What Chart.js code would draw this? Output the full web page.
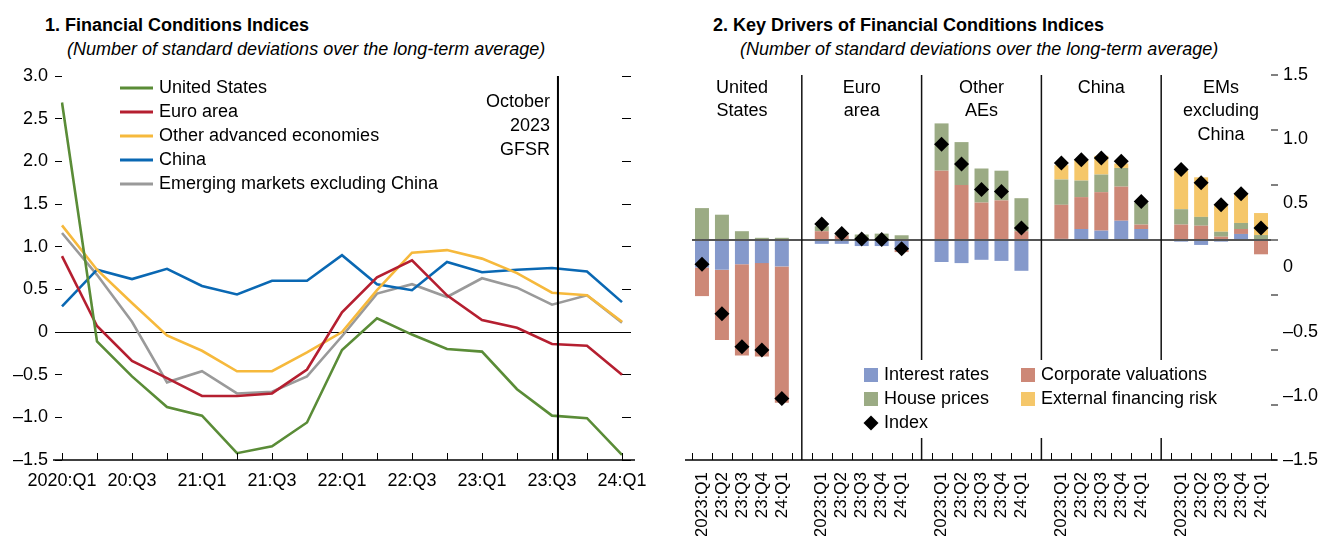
<!DOCTYPE html>
<html>
<head>
<meta charset="utf-8">
<script src="https://cdn.jsdelivr.net/npm/chart.js@4.4.1/dist/chart.umd.min.js"></script>
<style>
  body { margin: 0; background: #fff; width: 1320px; height: 536px; overflow: hidden; position: relative; }
  .title { position: absolute; font: bold 18px 'Liberation Sans', Arial, sans-serif; color: #000; white-space: nowrap; }
  .sub { position: absolute; font: italic 18px 'Liberation Sans', Arial, sans-serif; color: #000; white-space: nowrap; }
  .box { position: absolute; top: 0; width: 660px; height: 536px; }
</style>
</head>
<body>
<div class="title" style="left:45px; top:15px;">1. Financial Conditions Indices</div>
<div class="sub" style="left:67px; top:39px;">(Number of standard deviations over the long-term average)</div>
<div class="title" style="left:713px; top:15px;">2. Key Drivers of Financial Conditions Indices</div>
<div class="sub" style="left:740px; top:39px;">(Number of standard deviations over the long-term average)</div>
<div class="box" style="left:0"><canvas id="fci" width="660" height="536"></canvas></div>
<div class="box" style="left:660px"><canvas id="drivers" width="660" height="536"></canvas></div>
<script>
const FONT = "'Liberation Sans', Arial, sans-serif";
const DASH = '\u2013';

// PANEL 1 DATA
const quarters = ['2020:Q1','20:Q2','20:Q3','20:Q4','21:Q1','21:Q2','21:Q3','21:Q4',
  '22:Q1','22:Q2','22:Q3','22:Q4','23:Q1','23:Q2','23:Q3','23:Q4','24:Q1'];
const unitedStates = [2.69, -0.11, -0.52, -0.88, -0.98, -1.42, -1.34, -1.06, -0.21, 0.16, -0.03, -0.20, -0.23, -0.67, -0.98, -1.01, -1.44];
const euroArea = [0.89, 0.07, -0.34, -0.54, -0.75, -0.75, -0.72, -0.44, 0.23, 0.64, 0.84, 0.43, 0.14, 0.05, -0.14, -0.16, -0.50];
const otherAdvanced = [1.25, 0.73, 0.34, -0.04, -0.22, -0.46, -0.46, -0.24, 0.00, 0.49, 0.93, 0.96, 0.86, 0.69, 0.46, 0.43, 0.12];
const china = [0.30, 0.73, 0.62, 0.74, 0.54, 0.44, 0.60, 0.60, 0.90, 0.56, 0.49, 0.82, 0.70, 0.73, 0.75, 0.71, 0.35];
const emExChina = [1.16, 0.67, 0.12, -0.59, -0.46, -0.72, -0.70, -0.52, -0.05, 0.45, 0.56, 0.41, 0.63, 0.52, 0.32, 0.43, 0.11];
const gfsrMark = 14.17; // October 2023 GFSR, just after 23:Q3

// PANEL 2 DATA (5 groups x 5 quarters)
const groupNames = [['United', 'States'], ['Euro', 'area'], ['Other', 'AEs'], ['China'], ['EMs', 'excluding', 'China']];
const driverQuarters = ['2023:Q1', '23:Q2', '23:Q3', '23:Q4', '24:Q1'];
const interestRates = [
  -0.25, -0.27, -0.22, -0.21, -0.24,
  -0.035, -0.035, -0.055, -0.055, -0.09,
  -0.20, -0.21, -0.18, -0.19, -0.28,
  0.01, 0.10, 0.085, 0.175, 0.10,
  -0.015, -0.045, -0.015, 0.055, null];
const corporateValuations = [
  -0.26, -0.64, -0.83, -0.85, -1.24,
  0.08, 0.04, null, null, -0.02,
  0.63, 0.50, 0.34, 0.36, 0.08,
  0.31, 0.29, 0.35, 0.31, 0.04,
  0.14, 0.13, 0.03, 0.045, -0.13];
const housePrices = [
  0.29, 0.23, 0.08, 0.02, 0.02,
  0.045, 0.01, 0.05, 0.058, 0.043,
  0.43, 0.39, 0.31, 0.27, 0.30,
  0.23, 0.15, 0.16, 0.17, 0.20,
  0.14, 0.08, 0.045, 0.055, 0.045];
const externalFinancing = [
  null, null, null, null, null,
  null, null, null, null, null,
  null, null, null, null, null,
  0.13, 0.19, 0.17, 0.04, null,
  0.35, 0.36, 0.24, 0.27, 0.20];
const fciIndex = [
  -0.22, -0.67, -0.97, -1.00, -1.44,
  0.145, 0.06, 0.01, 0.005, -0.08,
  0.87, 0.69, 0.46, 0.44, 0.11,
  0.70, 0.73, 0.745, 0.715, 0.35,
  0.64, 0.52, 0.32, 0.42, 0.11];
const leftTicks = [3.0, 2.5, 2.0, 1.5, 1.0, 0.5, 0, -0.5, -1.0, -1.5];
const rightTicks = [1.5, 1.0, 0.5, 0, -0.5, -1.0, -1.5];

function fmt(v) {
  if (Math.abs(v) < 1e-9) return '0';
  return (v < 0 ? DASH : '') + Math.abs(v).toFixed(1);
}

// ---------- PANEL 1 ----------
const lineColors = {
  'United States': '#5a8c37',
  'Euro area': '#b51f30',
  'Other advanced economies': '#f6b93c',
  'China': '#0a68b3',
  'Emerging markets excluding China': '#9a9a9a'
};
const lineSeries = [
  ['United States', unitedStates],
  ['Euro area', euroArea],
  ['Other advanced economies', otherAdvanced],
  ['China', china],
  ['Emerging markets excluding China', emExChina]
];

const fciDecor = {
  id: 'fciDecor',
  afterDraw(chart) {
    const {ctx, chartArea, scales: {x}} = chart;
    const b = chartArea.bottom;
    ctx.save();
    ctx.strokeStyle = '#000';
    ctx.lineWidth = 1.3;
    ctx.beginPath();
    ctx.moveTo(53, b); ctx.lineTo(635, b);
    ctx.stroke();
    ctx.lineWidth = 1;
    x.ticks.forEach((t, i) => {
      const px = Math.round(x.getPixelForTick(i)) + 0.5;
      ctx.beginPath(); ctx.moveTo(px, b); ctx.lineTo(px, b - 7); ctx.stroke();
    });
    // GFSR marker
    const gx = x.getPixelForValue(gfsrMark);
    ctx.lineWidth = 2;
    ctx.beginPath(); ctx.moveTo(gx, chartArea.top); ctx.lineTo(gx, b); ctx.stroke();
    ctx.fillStyle = '#000';
    ctx.font = '18px ' + FONT;
    ctx.textAlign = 'right';
    ctx.textBaseline = 'middle';
    ['October', '2023', 'GFSR'].forEach((s, i) => ctx.fillText(s, gx - 8, 102 + i * 24));
    // legend
    ctx.textAlign = 'left';
    lineSeries.forEach(([name], i) => {
      const y = 88 + i * 24;
      ctx.strokeStyle = lineColors[name];
      ctx.lineWidth = 3;
      ctx.beginPath(); ctx.moveTo(120, y); ctx.lineTo(153, y); ctx.stroke();
      ctx.fillText(name, 159, y);
    });
    ctx.restore();
  }
};

new Chart(document.getElementById('fci'), {
  type: 'line',
  data: {
    labels: quarters,
    datasets: lineSeries.map(([name, values]) => ({
      label: name,
      data: values,
      borderColor: lineColors[name],
      borderWidth: 2.6,
      pointRadius: 0,
      tension: 0,
      fill: false
    }))
  },
  options: {
    responsive: false,
    animation: false,
    devicePixelRatio: 1,
    layout: { padding: { top: 76, left: 0, right: 0, bottom: 0 } },
    plugins: { legend: { display: false }, tooltip: { enabled: false } },
    scales: {
      x: {
        type: 'category',
        offset: false,
        border: { display: false },
        grid: { display: false, drawTicks: false },
        ticks: {
          autoSkip: false, maxRotation: 0, minRotation: 0, padding: 10,
          color: '#000', font: { family: FONT, size: 18 },
          callback(v, i) { return i % 2 ? '' : this.getLabelForValue(v); }
        },
        afterFit(s) { s.height = 76; }
      },
      y: {
        min: -1.5, max: 3.0,
        afterBuildTicks(s) { s.ticks = leftTicks.map(v => ({value: v})); },
        border: { display: false },
        grid: {
          color: c => (c.tick && c.tick.value === 0 ? '#000' : 'rgba(0,0,0,0)'),
          tickColor: '#000', tickLength: 7, lineWidth: 1
        },
        ticks: { padding: 7, color: '#000', font: { family: FONT, size: 18 }, callback: v => fmt(v) },
        afterFit(s) { s.width = 62; }
      },
      yr: {
        position: 'right',
        min: -1.5, max: 3.0,
        afterBuildTicks(s) { s.ticks = leftTicks.map(v => ({value: v})); },
        border: { display: false },
        grid: { drawOnChartArea: false, tickColor: '#000', tickLength: 9 },
        ticks: { display: false },
        afterFit(s) { s.width = 38; }
      }
    }
  },
  plugins: [fciDecor]
});

// ---------- PANEL 2 ----------
// 29 slots: 5 quarters per group with an empty slot between groups
function spread(arr) {
  const out = [];
  for (let g = 0; g < groupNames.length; g++) {
    out.push(...arr.slice(g * 5, g * 5 + 5));
    if (g < groupNames.length - 1) out.push(null);
  }
  return out;
}
const slotLabels = spread(groupNames.flatMap(() => driverQuarters)).map(l => l || '');
const gapSlots = [5, 11, 17, 23];

const barColors = {
  'Interest rates': '#8599cb',
  'Corporate valuations': '#cd8877',
  'House prices': '#9bab84',
  'External financing risk': '#f5c76a'
};
const legendBox = { left: 195, right: 575, top: 360, bottom: 438 };

const driverDecor = {
  id: 'driverDecor',
  beforeDatasetsDraw(chart) {
    const {ctx, chartArea, scales: {x}} = chart;
    ctx.save();
    ctx.strokeStyle = '#111';
    ctx.lineWidth = 1.5;
    gapSlots.forEach(i => {
      const px = x.getPixelForValue(i);
      ctx.beginPath(); ctx.moveTo(px, chartArea.top); ctx.lineTo(px, chartArea.bottom); ctx.stroke();
    });
    ctx.fillStyle = '#fff';
    ctx.fillRect(legendBox.left, legendBox.top, legendBox.right - legendBox.left, legendBox.bottom - legendBox.top);
    // group names
    ctx.fillStyle = '#000';
    ctx.font = '18px ' + FONT;
    ctx.textAlign = 'center';
    ctx.textBaseline = 'middle';
    groupNames.forEach((lines, g) => {
      const cx = x.getPixelForValue(g * 6 + 2);
      lines.forEach((s, j) => ctx.fillText(s, cx, 88 + j * 23.5));
    });
    ctx.restore();
  },
  afterDraw(chart) {
    const {ctx, chartArea, scales: {x}} = chart;
    const b = chartArea.bottom;
    ctx.save();
    ctx.strokeStyle = '#000';
    ctx.lineWidth = 1.3;
    ctx.beginPath(); ctx.moveTo(25, b); ctx.lineTo(617, b); ctx.stroke();
    ctx.lineWidth = 1;
    for (let k = 0; k <= slotLabels.length; k++) {
      const px = Math.round(x.getPixelForValue(k - 0.5)) + 0.5;
      ctx.beginPath(); ctx.moveTo(px, b); ctx.lineTo(px, b - 7); ctx.stroke();
    }
    // legend
    ctx.font = '18px ' + FONT;
    ctx.textAlign = 'left';
    ctx.textBaseline = 'middle';
    const items = [
      ['Interest rates', 204, 375], ['House prices', 204, 399],
      ['Corporate valuations', 361, 375], ['External financing risk', 361, 399]
    ];
    items.forEach(([name, lx, ly]) => {
      ctx.fillStyle = barColors[name];
      ctx.fillRect(lx, ly - 7, 14, 14);
      ctx.fillStyle = '#000';
      ctx.fillText(name, lx + 20, ly);
    });
    const dx = 211, dy = 423, r = 7.5;
    ctx.beginPath();
    ctx.moveTo(dx - r, dy); ctx.lineTo(dx, dy - r); ctx.lineTo(dx + r, dy); ctx.lineTo(dx, dy + r);
    ctx.closePath(); ctx.fill();
    ctx.fillText('Index', 224, dy);
    ctx.restore();
  }
};

const barSeries = [
  ['Interest rates', interestRates],
  ['Corporate valuations', corporateValuations],
  ['House prices', housePrices],
  ['External financing risk', externalFinancing]
];

new Chart(document.getElementById('drivers'), {
  type: 'bar',
  data: {
    labels: slotLabels,
    datasets: [
      {
        type: 'line',
        label: 'Index',
        data: spread(fciIndex),
        stack: 'index',
        showLine: false,
        pointStyle: 'rectRot',
        pointRadius: 7.5,
        pointBackgroundColor: '#000',
        pointBorderColor: '#000',
        pointBorderWidth: 0,
        order: 0
      },
      ...barSeries.map(([name, values]) => ({
        label: name,
        data: spread(values),
        backgroundColor: barColors[name],
        stack: 'drivers',
        barPercentage: 0.7,
        categoryPercentage: 1,
        borderWidth: 0,
        order: 1
      }))
    ]
  },
  options: {
    responsive: false,
    animation: false,
    devicePixelRatio: 1,
    layout: { padding: { top: 75, left: 32, right: 0, bottom: 0 } },
    plugins: { legend: { display: false }, tooltip: { enabled: false } },
    scales: {
      x: {
        type: 'category',
        offset: true,
        stacked: true,
        border: { display: false },
        grid: { display: false, drawTicks: false },
        ticks: {
          autoSkip: false, maxRotation: 90, minRotation: 90, padding: 12,
          color: '#000', font: { family: FONT, size: 17 }
        },
        afterFit(s) { s.height = 76; }
      },
      y: {
        position: 'right',
        stacked: true,
        min: -2.0, max: 1.5,
        ticks: { display: false, stepSize: 0.5 },
        border: { display: false },
        grid: {
          color: c => (c.tick && c.tick.value === 0 ? '#555' : 'rgba(0,0,0,0)'),
          lineWidth: 2, tickColor: '#000', tickLength: 7, tickWidth: 1
        },
        afterFit(s) { s.width = 0; }
      },
      yl: {
        position: 'right',
        min: -1.5, max: 1.5,
        afterBuildTicks(s) { s.ticks = rightTicks.map(v => ({value: v})); },
        border: { display: false },
        grid: { display: false, drawTicks: false },
        ticks: { padding: 12, color: '#000', font: { family: FONT, size: 18 }, callback: v => fmt(v) },
        afterFit(s) { s.width = 49; }
      }
    }
  },
  plugins: [driverDecor]
});
</script>
</body>
</html>
